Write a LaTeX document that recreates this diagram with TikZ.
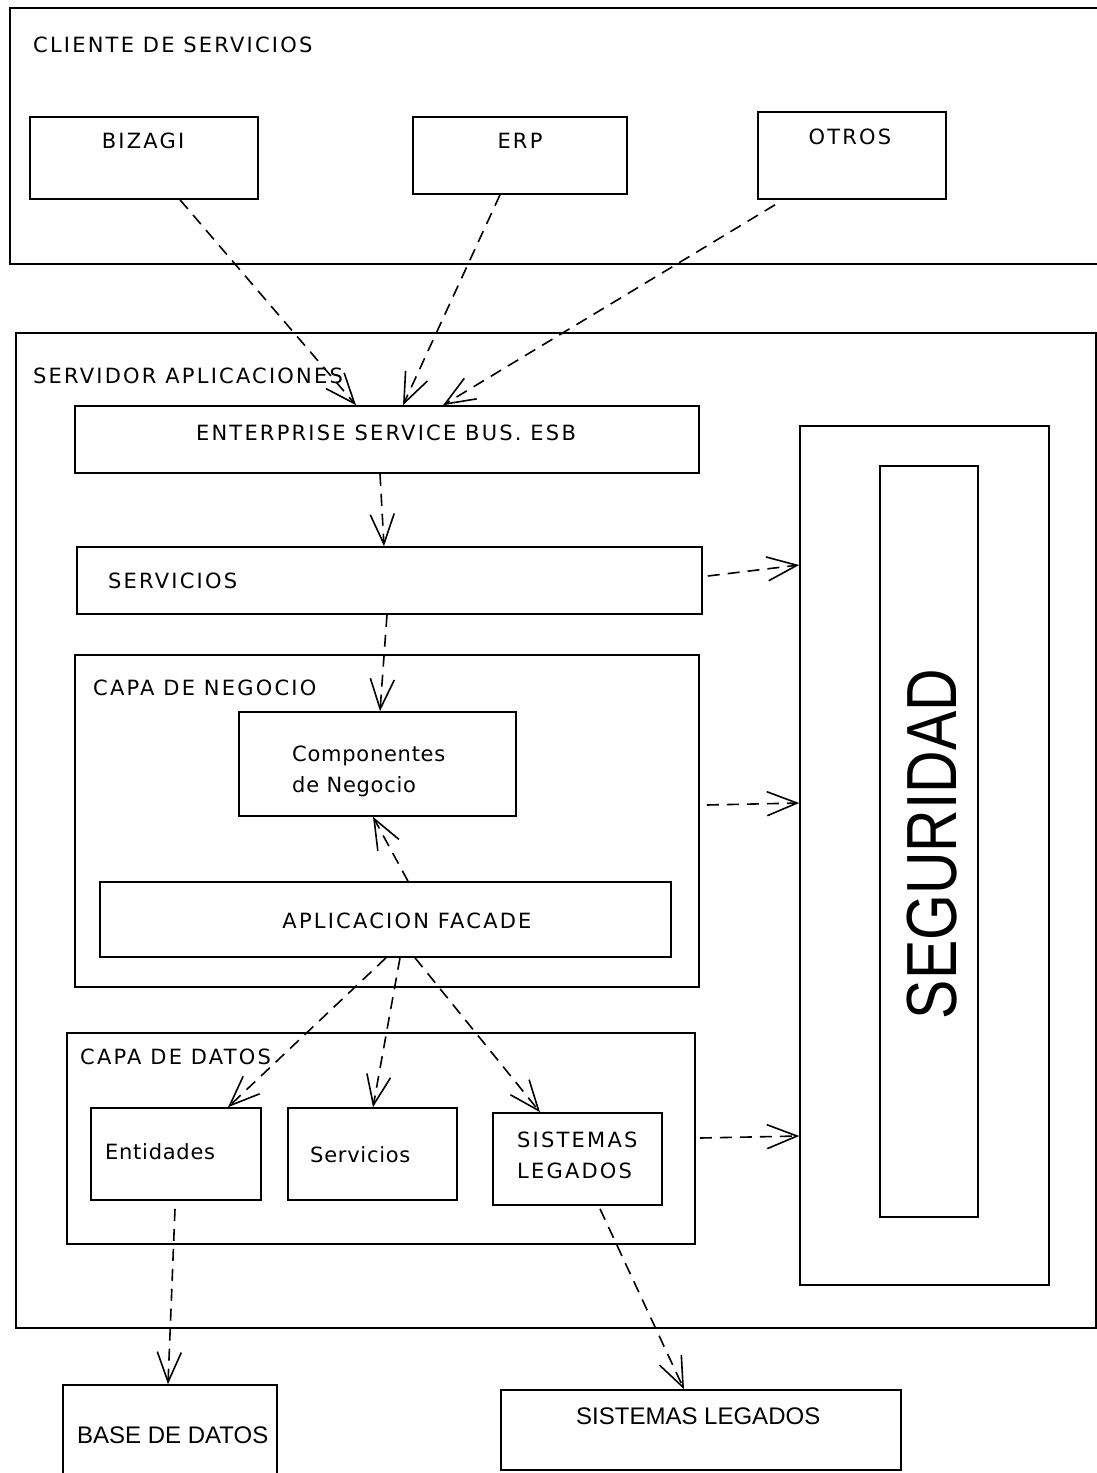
\documentclass[tikz,border=0pt]{standalone}
\usepackage{graphicx}
\usepackage{fontspec}
\setmainfont{Liberation Sans}
\newfontfamily\lblfont[LetterSpace=10.5]{DejaVu Sans}
\newfontfamily\mixfont[LetterSpace=3.5]{DejaVu Sans}
\usetikzlibrary{arrows.meta}
\begin{document}
\begin{tikzpicture}[x=1pt,y=-1pt,
  blk/.style={draw, line width=1.6pt, rectangle, inner sep=0pt, anchor=center},
  lbl/.style={inner sep=0pt, font={\lblfont\fontsize{21}{31}\selectfont}},
  mixlbl/.style={inner sep=0pt, font={\mixfont\fontsize{21}{31}\selectfont}},
  biglbl/.style={inner sep=0pt, font={\fontsize{24}{28}\selectfont}},
  dep/.style={draw, line width=1.6pt, dash pattern=on 12pt off 8pt,
    -{Straight Barb[length=30pt,width=24pt]}},
]
\useasboundingbox (0,0) rectangle (1097,1473);
\clip (0,0) rectangle (1097,1473);

% --- service clients ---
\node[blk, minimum width=1100pt, minimum height=256pt] (cliente) at (560,136) {};
\node[lbl, anchor=west] (clienteL) at (33,45) {CLIENTE DE SERVICIOS};
\node[blk, minimum width=228pt, minimum height=82pt] (bizagi) at (144,158) {};
\node[lbl] (bizagiL) at (143,141) {BIZAGI};
\node[blk, minimum width=214pt, minimum height=77pt] (erp) at (520,155.5) {};
\node[lbl] (erpL) at (520,141) {ERP};
\node[blk, minimum width=188pt, minimum height=87pt] (otros) at (852,155.5) {};
\node[lbl] (otrosL) at (850,137) {OTROS};

% --- application server ---
\node[blk, minimum width=1080pt, minimum height=995pt] (servidor) at (556,830.5) {};
\node[lbl, anchor=west] (servidorL) at (33,376) {SERVIDOR APLICACIONES};
\node[blk, minimum width=624pt, minimum height=67pt] (esb) at (387,439.5) {};
\node[lbl] (esbL) at (386,433) {ENTERPRISE SERVICE BUS. ESB};
\node[blk, minimum width=625pt, minimum height=67pt] (servicios) at (389.5,580.5) {};
\node[lbl, anchor=west] (serviciosL) at (108,581) {SERVICIOS};

% business layer
\node[blk, minimum width=624pt, minimum height=332pt] (negocio) at (387,821) {};
\node[lbl, anchor=west] (negocioL) at (93,688) {CAPA DE NEGOCIO};
\node[blk, minimum width=277pt, minimum height=104pt] (comp) at (377.5,764) {};
\node[mixlbl, anchor=north west, align=left] (compL) at (292,746) {Componentes\\de Negocio};
\node[blk, minimum width=571pt, minimum height=75pt] (facade) at (385.5,919.5) {};
\node[lbl] (facadeL) at (407,921) {APLICACION FACADE};

% data layer
\node[blk, minimum width=628pt, minimum height=211pt] (datos) at (381,1138.5) {};
\node[lbl, anchor=west] (datosL) at (80,1057) {CAPA DE DATOS};
\node[blk, minimum width=170pt, minimum height=92pt] (entidades) at (176,1154) {};
\node[mixlbl, anchor=west] (entidadesL) at (105,1152) {Entidades};
\node[blk, minimum width=169pt, minimum height=92pt] (servd) at (372.5,1154) {};
\node[mixlbl, anchor=west] (servdL) at (310,1155) {Servicios};
\node[blk, minimum width=169pt, minimum height=92pt] (sislegin) at (577.5,1159) {};
\node[lbl, anchor=north west, align=left] (sisleginL) at (517,1132) {SISTEMAS\\LEGADOS};

% security
\node[blk, minimum width=249pt, minimum height=859pt] (segout) at (924.5,855.5) {};
\node[blk, minimum width=98pt, minimum height=751pt] (segin) at (929,841.5) {};
\node[inner sep=0pt, rotate=90, font={\fontsize{71}{71}\selectfont}] (segL) at (932.5,844)
  {\scalebox{0.83}[1]{SEGURIDAD}};

% --- external systems ---
\node[blk, minimum width=214pt, minimum height=105pt] (bd) at (170,1437.5) {};
\node[biglbl, anchor=west] (bdL) at (77,1435) {BASE DE DATOS};
\node[blk, minimum width=400pt, minimum height=80pt] (sisleg) at (701,1430) {};
\node[biglbl, anchor=west] (sislegL) at (576,1416) {SISTEMAS LEGADOS};

% --- dependencies ---
\draw[dep] ([xshift=36pt]bizagi.south) -- ([xshift=-31pt]esb.north);
\draw[dep] ([xshift=-20pt]erp.south) -- ([xshift=16pt]esb.north);
\draw[dep] ([xshift=-77pt,yshift=-5pt]otros.south) -- ([xshift=56pt]esb.north);
\draw[dep] ([xshift=-7pt]esb.south) -- ([xshift=-5.5pt]servicios.north);
\draw[dep] ([xshift=5pt,yshift=4.5pt]servicios.east) -- ([yshift=290.5pt]segout.west);
\draw[dep] ([xshift=-2.5pt]servicios.south) -- ([xshift=2.5pt]comp.north);
\draw[dep] ([xshift=22.5pt]facade.north) -- ([xshift=-4.5pt]comp.south);
\draw[dep] ([xshift=7pt,yshift=16pt]negocio.east) -- ([yshift=52.5pt]segout.west);
\draw[dep] ([xshift=0.5pt]facade.south) -- ([xshift=52pt]entidades.north);
\draw[dep] ([xshift=14.5pt]facade.south) -- ([xshift=0.5pt]servd.north);
\draw[dep] ([xshift=29.5pt]facade.south) -- ([xshift=-37.5pt]sislegin.north);
\draw[dep] ([xshift=4pt,yshift=0.5pt]datos.east) -- ([yshift=-280.5pt]segout.west);
\draw[dep] ([xshift=-1pt,yshift=-8pt]entidades.south) -- ([xshift=-2pt]bd.north);
\draw[dep] ([xshift=22.5pt,yshift=-3pt]sislegin.south) -- ([xshift=-17pt]sisleg.north);
\end{tikzpicture}
\end{document}
